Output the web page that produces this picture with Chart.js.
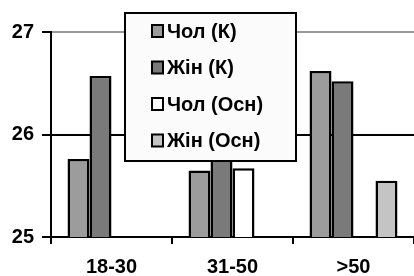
<!DOCTYPE html>
<html>
<head>
<meta charset="utf-8">
<script src="https://cdn.jsdelivr.net/npm/chart.js@4/dist/chart.umd.min.js"></script>
<style>
  html, body { margin: 0; padding: 0; background: #ffffff; }
  #wrap { width: 414px; height: 276px; position: relative; }
</style>
</head>
<body>
<div id="wrap"><canvas id="c" width="414" height="276"></canvas></div>
<script>
const categories = ['18-30', '31-50', '>50'];
const seriesNames = ['Чол (К)', 'Жін (К)', 'Чол (Осн)', 'Жін (Осн)'];
const cholK   = [25.76, 25.65, 26.62];
const zhinK   = [26.57, 25.90, 26.52];
const cholOsn = [null, 25.67, null];
const zhinOsn = [null, null, 25.55];
const yTicks  = [25, 26, 27];

const colors = ['#9c9c9c', '#7a7a7a', '#ffffff', '#c4c4c4'];
const FONT = '"Liberation Sans", Arial, sans-serif';

const legendBox = {
  id: 'legendBox',
  afterDraw(chart) {
    const ctx = chart.ctx;
    const x0 = 125, y0 = 13, w = 171, h = 148;
    ctx.save();
    ctx.fillStyle = '#fbfbfb';
    ctx.fillRect(x0, y0, w, h);
    ctx.strokeStyle = '#000';
    ctx.lineWidth = 2;
    ctx.strokeRect(x0, y0, w, h);
    ctx.font = 'bold 20px ' + FONT;
    ctx.textBaseline = 'middle';
    ctx.textAlign = 'left';
    chart.data.datasets.forEach((ds, i) => {
      const cy = 31 + i * 36.5;
      ctx.fillStyle = ds.backgroundColor;
      ctx.fillRect(152, cy - 6, 11, 12);
      ctx.strokeStyle = '#000';
      ctx.lineWidth = 2;
      ctx.strokeRect(152, cy - 6, 11, 12);
      ctx.fillStyle = '#000';
      ctx.fillText(ds.label, 167, cy + 1);
    });
    ctx.restore();
  }
};

const data = {
  labels: categories,
  datasets: [cholK, zhinK, cholOsn, zhinOsn].map((vals, i) => ({
    label: seriesNames[i],
    data: vals,
    backgroundColor: colors[i],
    borderColor: '#000',
    borderWidth: 2.5,
    categoryPercentage: 0.727,
    barPercentage: 1.0
  }))
};

new Chart(document.getElementById('c'), {
  type: 'bar',
  data,
  options: {
    responsive: false,
    devicePixelRatio: 1,
    animation: false,
    layout: { padding: { top: 32, right: 0, left: 0, bottom: 0 } },
    plugins: { legend: { display: false }, tooltip: { enabled: false } },
    scales: {
      x: {
        offset: true,
        grid: { display: true, drawOnChartArea: false, drawTicks: true, tickLength: 7, color: '#000', lineWidth: 2, offset: true },
        border: { display: true, color: '#000', width: 2 },
        ticks: { color: '#000', font: { family: FONT, size: 20, weight: 'bold' }, padding: 11, maxRotation: 0 },
        afterFit(s) { s.height = 39; }
      },
      y: {
        min: 25, max: 27,
        afterBuildTicks(s) { s.ticks = yTicks.map(v => ({ value: v })); },
        grid: {
          color: (c) => (c.tick && c.tick.value === 27) ? '#9a9a9a' : '#000',
          tickColor: '#000',
          lineWidth: 2,
          tickLength: 9
        },
        border: { display: true, color: '#000', width: 2 },
        ticks: { color: '#000', font: { family: FONT, size: 20, weight: 'bold' }, padding: 8 },
        afterFit(s) { s.width = 51; }
      }
    }
  },
  plugins: [legendBox]
});
</script>
</body>
</html>
